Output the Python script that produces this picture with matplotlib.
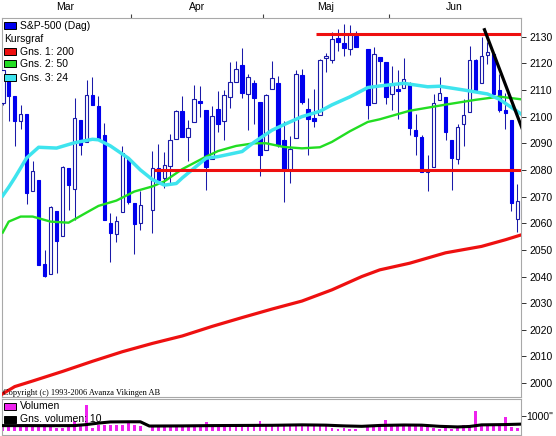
import matplotlib
matplotlib.use("Agg")
import matplotlib.pyplot as plt
from matplotlib.patches import Rectangle
import numpy as np
import pandas as pd

# ---- data: S&P-500 daily candles, Mar-Jun 2015 ----
holidays = ["2015-04-03", "2015-05-25"]
weekdays = pd.bdate_range("2015-03-02", "2015-06-30")
days = weekdays[~weekdays.isin(pd.to_datetime(holidays))]

opens = [2105.23, 2115.76, 2107.72, 2098.54, 2100.91, 2072.25, 2076.14, 2044.69, 2041.10, 2064.56, 2055.35,
         2080.59, 2072.84, 2098.69, 2090.32, 2107.99, 2103.94, 2093.10, 2059.94, 2055.78, 2064.11, 2084.05,
         2067.63, 2060.03, 2064.87, 2080.79, 2076.94, 2081.29, 2091.51, 2102.03, 2092.28, 2097.82, 2105.96,
         2102.58, 2084.11, 2102.82, 2098.27, 2107.21, 2112.80, 2119.29, 2108.35, 2112.49, 2105.52,
         2087.38, 2110.23, 2112.63, 2091.26, 2079.96, 2092.13, 2115.56, 2102.87, 2099.62, 2100.43,
         2122.07, 2121.30, 2129.45, 2127.79, 2125.55, 2130.36, 2125.34, 2105.13, 2122.27, 2120.66,
         2108.64, 2110.41, 2110.64, 2112.35, 2095.09, 2092.34, 2079.07, 2081.12, 2106.24, 2107.43, 2091.34,
         2084.26, 2097.40, 2101.58, 2121.06, 2112.50, 2123.16, 2123.65, 2109.96, 2102.62, 2098.63, 2061.60]
highs = [2117.52, 2115.76, 2107.72, 2104.25, 2100.91, 2083.49, 2076.14, 2050.08, 2066.41, 2064.56, 2081.41,
         2080.59, 2106.85, 2098.69, 2113.92, 2114.86, 2107.63, 2097.43, 2064.00, 2062.83, 2088.97, 2084.05,
         2067.63, 2072.17, 2086.99, 2089.81, 2086.69, 2093.31, 2102.61, 2107.65, 2098.62, 2111.91, 2111.30,
         2102.58, 2103.94, 2109.64, 2109.98, 2120.49, 2120.92, 2125.92, 2116.04, 2113.65, 2105.52,
         2108.41, 2120.95, 2115.24, 2098.42, 2092.90, 2117.66, 2117.69, 2107.00, 2110.19, 2121.45,
         2123.89, 2131.78, 2133.02, 2134.72, 2134.28, 2132.15, 2125.34, 2126.22, 2122.27, 2120.66,
         2119.15, 2117.59, 2121.92, 2112.89, 2100.99, 2093.01, 2085.62, 2108.50, 2115.02, 2107.43, 2091.34,
         2097.40, 2106.79, 2126.65, 2121.64, 2129.87, 2128.03, 2125.10, 2116.04, 2108.92, 2098.63, 2074.90]
lows = [2104.50, 2098.26, 2089.00, 2095.22, 2067.27, 2072.21, 2044.16, 2039.69, 2041.10, 2041.17, 2055.35,
        2065.08, 2061.23, 2085.56, 2090.32, 2104.42, 2091.50, 2061.05, 2045.50, 2052.96, 2064.11, 2067.04,
        2048.38, 2057.32, 2056.52, 2076.10, 2073.30, 2074.29, 2091.51, 2092.33, 2083.24, 2097.82, 2100.02,
        2072.37, 2084.11, 2094.38, 2091.05, 2103.19, 2112.80, 2107.04, 2094.89, 2097.41, 2077.59,
        2087.38, 2110.23, 2088.46, 2067.93, 2074.99, 2092.13, 2104.58, 2085.57, 2096.04, 2100.43,
        2116.81, 2120.01, 2124.50, 2122.59, 2122.95, 2126.06, 2099.18, 2105.13, 2112.86, 2104.89,
        2102.54, 2099.14, 2110.64, 2093.23, 2085.67, 2079.11, 2072.14, 2081.12, 2106.24, 2091.33, 2072.49,
        2082.10, 2088.86, 2101.58, 2109.45, 2112.50, 2119.89, 2108.58, 2101.78, 2095.38, 2064.40, 2056.80]
closes = [2117.39, 2107.78, 2098.53, 2101.04, 2071.26, 2079.43, 2044.16, 2040.24, 2065.95, 2053.40, 2081.19,
          2074.28, 2099.50, 2089.27, 2108.10, 2104.42, 2091.50, 2061.05, 2056.15, 2061.02, 2086.24, 2067.89,
          2059.69, 2066.96, 2080.62, 2076.33, 2081.90, 2091.18, 2102.06, 2092.43, 2095.84, 2106.63, 2104.99,
          2081.18, 2100.40, 2097.29, 2107.96, 2112.93, 2117.69, 2108.92, 2114.76, 2106.85, 2085.51,
          2108.29, 2114.49, 2089.46, 2080.15, 2088.00, 2116.10, 2105.33, 2099.12, 2098.48, 2121.10,
          2122.73, 2129.20, 2127.83, 2125.85, 2130.82, 2126.06, 2104.20, 2123.48, 2120.79, 2107.39,
          2111.73, 2109.60, 2114.07, 2095.84, 2092.83, 2079.28, 2080.15, 2105.20, 2108.86, 2094.11, 2084.43,
          2096.29, 2100.44, 2121.24, 2109.99, 2122.85, 2124.20, 2108.58, 2102.31, 2101.49, 2067.50, 2068.40]
volume = [380, 420, 400, 370, 430, 400, 390, 450, 420, 180, 160, 380, 640, 400, 1750, 220, 400, 390, 410, 380, 420, 500,
          380, 330, 360, 380, 370, 390, 380, 400, 410, 390, 390, 620, 400, 390, 380, 410, 400, 420, 390, 400, 650,
          410, 400, 420, 410, 400, 390, 380, 400, 390, 420, 440, 170, 150, 160, 140, 150, 390, 400, 380, 730,
          400, 410, 390, 400, 410, 380, 250, 160, 150, 300, 150, 170, 380, 400, 1360, 400, 390, 410, 380, 950, 230, 190]

# moving averages (x = weekday slot)
ma200_idx = [0, 2, 5, 10, 15, 20, 25, 30, 35, 40, 45, 50, 55, 60, 63, 68, 74, 80, 84, 86.6]
ma200 = [1996.0, 1998.7, 2000.8, 2004.4, 2008.2, 2011.8, 2014.9, 2017.7, 2021.3, 2024.6, 2027.8, 2030.8,
         2035.0, 2040.0, 2042.5, 2045.0, 2048.9, 2051.3, 2053.8, 2055.6]
ma50_idx = [0, 1, 3, 5, 8, 11, 14, 16, 19, 22, 25, 27, 30, 34, 36, 39, 42, 44, 47, 50, 53, 55, 58, 61, 63,
            68, 74, 79, 83, 86.6]
ma50 = [2056.5, 2060.6, 2062.5, 2062.5, 2060.6, 2060.2, 2064.0, 2066.5, 2068.5, 2071.9, 2073.8, 2075.7, 2080.3,
        2085.0, 2087.1, 2089.0, 2090.0, 2090.0, 2088.6, 2088.1, 2088.5, 2090.5, 2094.5, 2098.0, 2099.0,
        2102.2, 2104.5, 2106.3, 2107.5, 2106.5]
ma24_idx = [0, 1, 2, 4, 6, 9, 12, 15, 16, 18, 21, 23, 25, 27, 29, 30, 34, 36, 40, 42, 45, 47, 50, 53, 55,
            58, 61, 63, 67, 71, 73, 77, 81, 83, 86.6]
ma24 = [2070.3, 2073.5, 2077.0, 2084.5, 2088.5, 2088.2, 2090.2, 2091.5, 2091.3, 2089.0, 2084.4, 2080.0, 2076.4,
        2074.3, 2074.9, 2077.0, 2084.4, 2085.0, 2086.9, 2090.4, 2094.9, 2097.0, 2100.0, 2102.0, 2104.4,
        2107.4, 2110.9, 2111.5, 2112.5, 2111.2, 2111.4, 2110.0, 2108.5, 2106.5, 2101.0]
volma_idx = [0, 4, 8, 12, 14, 16, 18, 21, 23, 24.5, 30, 35, 40, 45, 50, 54, 57, 60, 63, 67, 70, 73, 76, 78,
             80, 84, 86.6]
volma = [350, 350, 345, 350, 420, 520, 600, 610, 610, 320, 330, 350, 360, 370, 400, 380, 330, 300, 360, 390,
         380, 300, 260, 290, 400, 420, 450]

# drawn lines
support, support_from = 2080, 25.3
resist, resist_from = 2131, 52.3
trend_idx = [80.5, 86.8]
trend_val = [2132.6, 2095.5]

BLUE = "#0000ee"
EDGE = "#1a1aa8"
RED = "#ee1010"
GREEN = "#22dd22"
CYAN = "#3ee4ee"
MAGENTA = "#ee22ee"
GRAY = "#a8a8a8"
FONT = "Liberation Sans"

W, H = 556, 436
fig = plt.figure(figsize=(W / 100, H / 100), dpi=100)
ax = fig.add_axes([2 / W, 1 - 397 / H, 519 / W, 379 / H])
axv = fig.add_axes([2 / W, 1 - 435 / H, 519 / W, 36 / H])

pos = weekdays.get_indexer(days)
xmax = 86.6

# candles
bw = 0.6
for x, o, h, l, c in zip(pos, opens, highs, lows, closes):
    ax.vlines(x, l, h, color=EDGE, lw=0.75, zorder=2)
    up = c >= o
    ax.add_patch(Rectangle((x - bw / 2, min(o, c)), bw, max(abs(c - o), 0.3),
                           facecolor="white" if up else BLUE,
                           edgecolor=EDGE if up else BLUE, lw=0.8, zorder=3))

ax.plot(ma200_idx, ma200, color=RED, lw=2.3, zorder=4)
ax.plot(ma50_idx, ma50, color=GREEN, lw=1.7, zorder=4)
ax.plot(ma24_idx, ma24, color=CYAN, lw=2.5, zorder=4)
ax.hlines(support, support_from, xmax, color=RED, lw=2.2, zorder=5)
ax.hlines(resist, resist_from, xmax, color=RED, lw=2.2, zorder=5)
ax.plot(trend_idx, trend_val, color="black", lw=2.3, zorder=6)

ax.set_xlim(-0.12, xmax)
ax.set_ylim(1994.8, 2137.0)

# month ticks on top
month = days.month
bounds = [pos[i] - 0.5 for i in range(1, len(pos)) if month[i] != month[i - 1]]
centers = []
for m in sorted(set(month)):
    p = pos[month == m]
    centers.append((p[0] + p[-1]) / 2)
ax.xaxis.tick_top()
ax.set_xticks(bounds)
ax.set_xticklabels([])
ax.set_xticks(centers, minor=True)
ax.set_xticklabels(["Mar", "Apr", "Maj", "Jun"], minor=True, fontsize=7.5, family=FONT)
ax.tick_params(axis="x", which="major", direction="out", length=3, width=0.8, color="#404040")
ax.tick_params(axis="x", which="minor", length=0, pad=4.5)

ax.yaxis.tick_right()
ax.set_yticks(range(2000, 2131, 10))
ax.tick_params(axis="y", direction="out", length=3.6, width=0.7, color="#303030", pad=2.2, labelsize=7.5)
for t in ax.get_yticklabels():
    t.set_family(FONT)

# volume panel
axv.bar(pos, volume, width=0.45, color=MAGENTA, zorder=2)
axv.plot(volma_idx, volma, color="black", lw=2.2, zorder=3)
axv.set_xlim(-0.12, xmax)
axv.set_ylim(-290, 2160)
axv.set_xticks([])
axv.yaxis.tick_right()
axv.set_yticks([1000])
axv.set_yticklabels(['1000"'], family=FONT, fontsize=7.5)
axv.tick_params(axis="y", direction="out", length=3.6, width=0.7, color="#303030", pad=0.5)

for a in (ax, axv):
    for s in a.spines.values():
        s.set_color(GRAY)
        s.set_linewidth(0.8)


def px(x, y):
    return x / W, 1 - y / H


def swatch(y, color):
    fig.patches.append(Rectangle(px(4, y + 3.5), 12 / W, 7 / H, transform=fig.transFigure,
                                 facecolor=color, edgecolor="black", lw=0.7, zorder=10))


legend_rows = [(25.7, BLUE, "S&P-500 (Dag)"), (39, None, "Kursgraf"), (51.7, RED, "Gns. 1: 200"),
               (64, GREEN, "Gns. 2: 50"), (77.7, CYAN, "Gns. 3: 24"),
               (406, MAGENTA, "Volumen"), (419, "black", "Gns. volumen: 10")]
for y, col, label in legend_rows:
    if col is None:
        fig.text(*px(4, y), label, fontsize=7.5, family=FONT, va="center", zorder=10)
    else:
        swatch(y, col)
        fig.text(*px(20, y), label, fontsize=7.5, family=FONT, va="center", zorder=10)

fig.text(*px(3, 393), "Copyright (c) 1993-2006 Avanza Vikingen AB", fontsize=6,
         family="Liberation Serif", va="center")

fig.savefig("out.png", dpi=100)
